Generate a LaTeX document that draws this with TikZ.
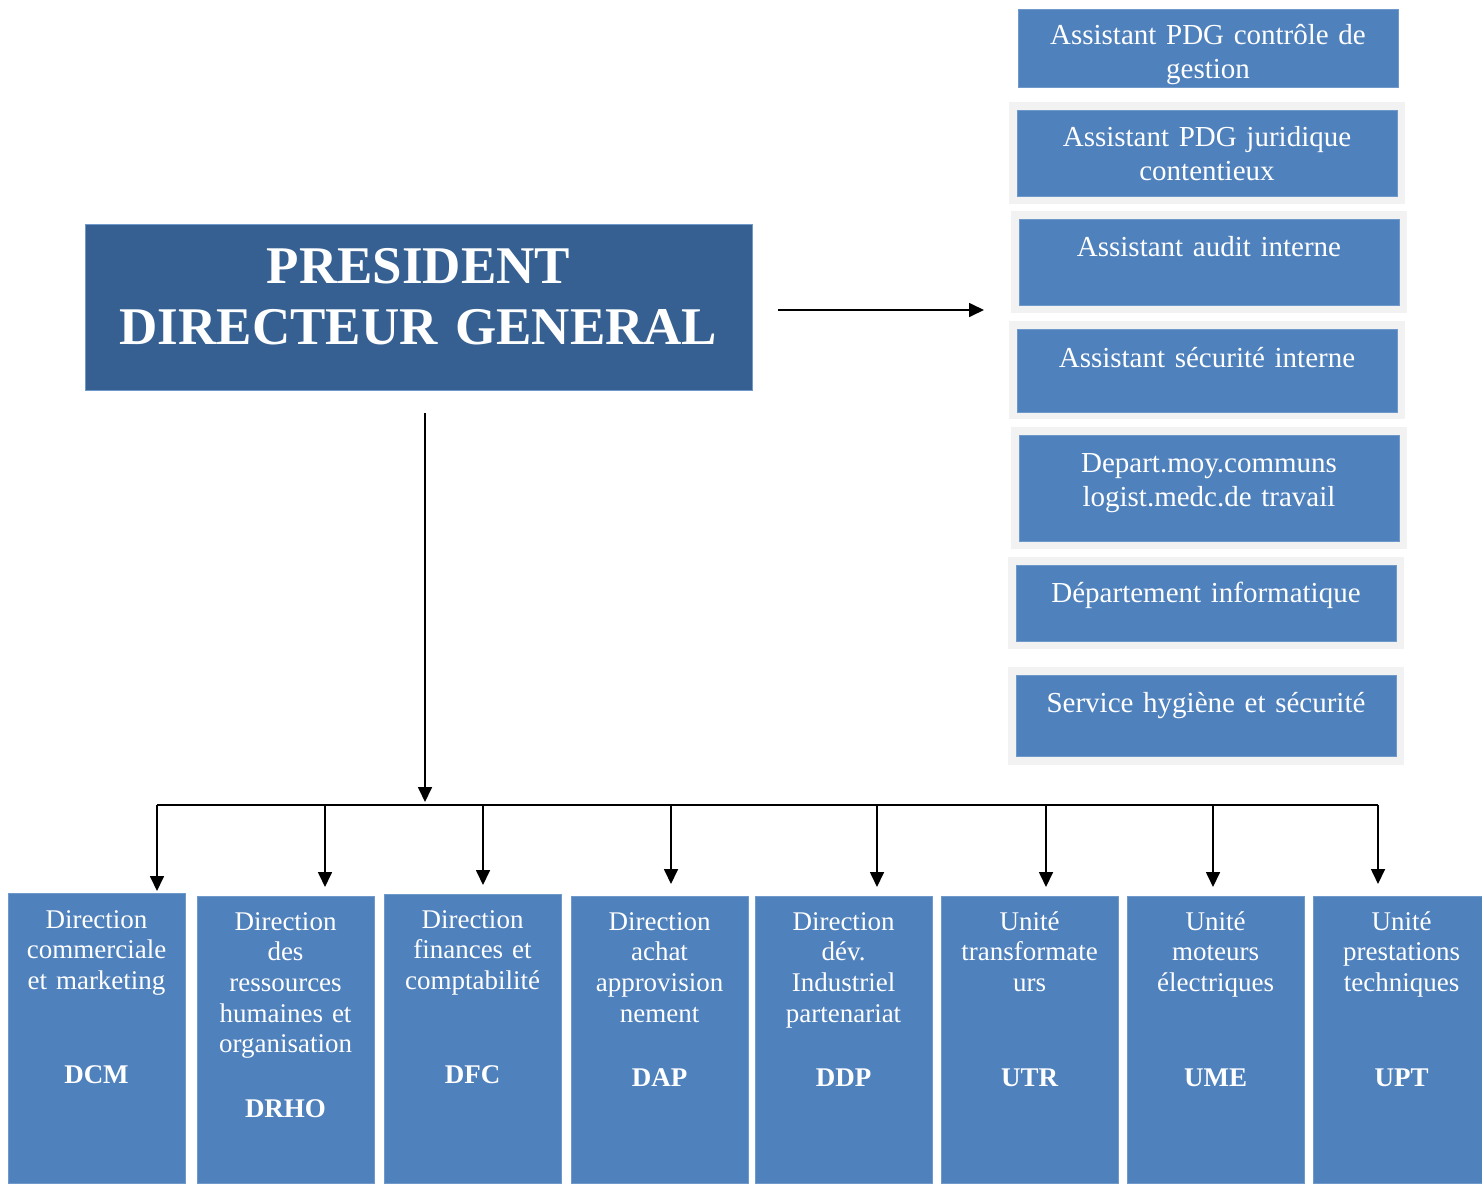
\documentclass[tikz,border=0pt]{standalone}
\usepackage{fontspec}
\setmainfont{Liberation Serif}
\usetikzlibrary{arrows.meta}
\definecolor{boxblue}{HTML}{4F81BD}
\definecolor{pdgblue}{HTML}{366092}
\definecolor{framegrey}{HTML}{F2F2F2}
\definecolor{edgeblue}{HTML}{6F98CB}
\begin{document}
\begin{tikzpicture}[x=1pt,y=-1pt,
  blockbox/.style={fill=boxblue, draw=edgeblue, line width=0.8pt, inner sep=0pt, outer sep=0pt, anchor=north west},
  greyframe/.style={fill=framegrey, draw=none, inner sep=0pt, outer sep=0pt, anchor=north west},
  pdgbox/.style={fill=pdgblue, draw=edgeblue, line width=0.8pt, inner sep=0pt, outer sep=0pt, anchor=north west},
  sidetext/.style={text=white, inner sep=0pt, anchor=base, text width=380pt, align=center,
    font=\fontsize{29}{34}\selectfont},
  unittext/.style={text=white, inner sep=0pt, anchor=base, text width=175pt, align=center,
    font=\fontsize{27}{30.7}\selectfont},
  unitabbr/.style={text=white, inner sep=0pt, anchor=base, font=\fontsize{27}{30.7}\selectfont\bfseries},
  pdgtext/.style={text=white, inner sep=0pt, anchor=base, text width=660pt, align=center,
    font=\fontsize{53}{61}\selectfont\bfseries},
  link/.style={line width=1.7pt, black},
  tip/.style={-{Triangle[length=15pt,width=14pt]}}
]
\useasboundingbox (0,0) rectangle (1482,1183);

% ---- president ----
\node[pdgbox, minimum width=667pt, minimum height=166pt] (pdg) at (85,224) {};
\node[pdgtext] (pdg-t) at (418.5,283) {PRESIDENT\\DIRECTEUR GENERAL};

% ---- staff units (right column) ----
\node[blockbox, minimum width=380pt, minimum height=78pt] (s1) at (1018,9) {};
\node[sidetext] (s1-t) at (1208,44) {Assistant PDG contrôle de\\gestion};

\node[greyframe, minimum width=396pt, minimum height=102pt] (f2) at (1009,102) {};
\node[blockbox, minimum width=380pt, minimum height=86pt] (s2) at (1017,110) {};
\node[sidetext] (s2-t) at (1207,146) {Assistant PDG juridique\\contentieux};

\node[greyframe, minimum width=396pt, minimum height=102pt] (f3) at (1011,211) {};
\node[blockbox, minimum width=380pt, minimum height=86pt] (s3) at (1019,219) {};
\node[sidetext] (s3-t) at (1209,256) {Assistant audit interne};

\node[greyframe, minimum width=396pt, minimum height=98pt] (f4) at (1009,321) {};
\node[blockbox, minimum width=380pt, minimum height=83pt] (s4) at (1017,329) {};
\node[sidetext] (s4-t) at (1207,367) {Assistant sécurité interne};

\node[greyframe, minimum width=396pt, minimum height=122pt] (f5) at (1011,427) {};
\node[blockbox, minimum width=380pt, minimum height=106pt] (s5) at (1019,435) {};
\node[sidetext] (s5-t) at (1209,472) {Depart.moy.communs\\logist.medc.de travail};

\node[greyframe, minimum width=396pt, minimum height=92pt] (f6) at (1008,557) {};
\node[blockbox, minimum width=380pt, minimum height=76pt] (s6) at (1016,565) {};
\node[sidetext] (s6-t) at (1206,602) {Département informatique};

\node[greyframe, minimum width=396pt, minimum height=98pt] (f7) at (1008,667) {};
\node[blockbox, minimum width=380pt, minimum height=81pt] (s7) at (1016,675) {};
\node[sidetext] (s7-t) at (1206,712) {Service hygiène et sécurité};

% ---- operational units (bottom row) ----
\node[blockbox, minimum width=177pt, minimum height=290pt] (dcm) at (8,893) {};
\node[unittext] (dcm-t) at (96.5,928) {Direction\\commerciale\\et marketing};
\node[unitabbr] (dcm-a) at (96.5,1083) {DCM};

\node[blockbox, minimum width=177pt, minimum height=287pt] (drho) at (197,896) {};
\node[unittext] (drho-t) at (285.5,930) {Direction\\des\\ressources\\humaines et\\organisation};
\node[unitabbr] (drho-a) at (285.5,1117) {DRHO};

\node[blockbox, minimum width=177pt, minimum height=289pt] (dfc) at (384,894) {};
\node[unittext] (dfc-t) at (472.5,928) {Direction\\finances et\\comptabilité};
\node[unitabbr] (dfc-a) at (472.5,1083) {DFC};

\node[blockbox, minimum width=177pt, minimum height=287pt] (dap) at (571,896) {};
\node[unittext] (dap-t) at (659.5,930) {Direction\\achat\\approvision\\nement};
\node[unitabbr] (dap-a) at (659.5,1086) {DAP};

\node[blockbox, minimum width=177pt, minimum height=287pt] (ddp) at (755,896) {};
\node[unittext] (ddp-t) at (843.5,930) {Direction\\dév.\\Industriel\\partenariat};
\node[unitabbr] (ddp-a) at (843.5,1086) {DDP};

\node[blockbox, minimum width=177pt, minimum height=287pt] (utr) at (941,896) {};
\node[unittext] (utr-t) at (1029.5,930) {Unité\\transformate\\urs};
\node[unitabbr] (utr-a) at (1029.5,1086) {UTR};

\node[blockbox, minimum width=177pt, minimum height=287pt] (ume) at (1127,896) {};
\node[unittext] (ume-t) at (1215.5,930) {Unité\\moteurs\\électriques};
\node[unitabbr] (ume-a) at (1215.5,1086) {UME};

\node[blockbox, minimum width=169pt, minimum height=287pt] (upt) at (1313,896) {};
\node[unittext] (upt-t) at (1401.5,930) {Unité\\prestations\\techniques};
\node[unitabbr] (upt-a) at (1401.5,1086) {UPT};

% ---- connectors ----
\coordinate (staff-start) at (778,310);
\coordinate (staff-end) at (984,310);
\draw[link,tip] (staff-start) -- (staff-end);

\coordinate (down-start) at (425,413);
\coordinate (down-end) at (425,802);
\draw[link,tip] (down-start) -- (down-end);

\coordinate (bar-left) at (157,805);
\coordinate (bar-right) at (1378,805);
\draw[link] (bar-left) -- (bar-right);

\foreach \name/\x/\ty in {dcm/157/891, drho/325/887, dfc/483/885, dap/671/884,
                          ddp/877/887, utr/1046/887, ume/1213/887, upt/1378/884} {
  \coordinate (\name-in) at (\x,805);
  \coordinate (\name-tip) at (\x,\ty);
  \draw[link,tip] (\name-in) -- (\name-tip);
}
\end{tikzpicture}
\end{document}
